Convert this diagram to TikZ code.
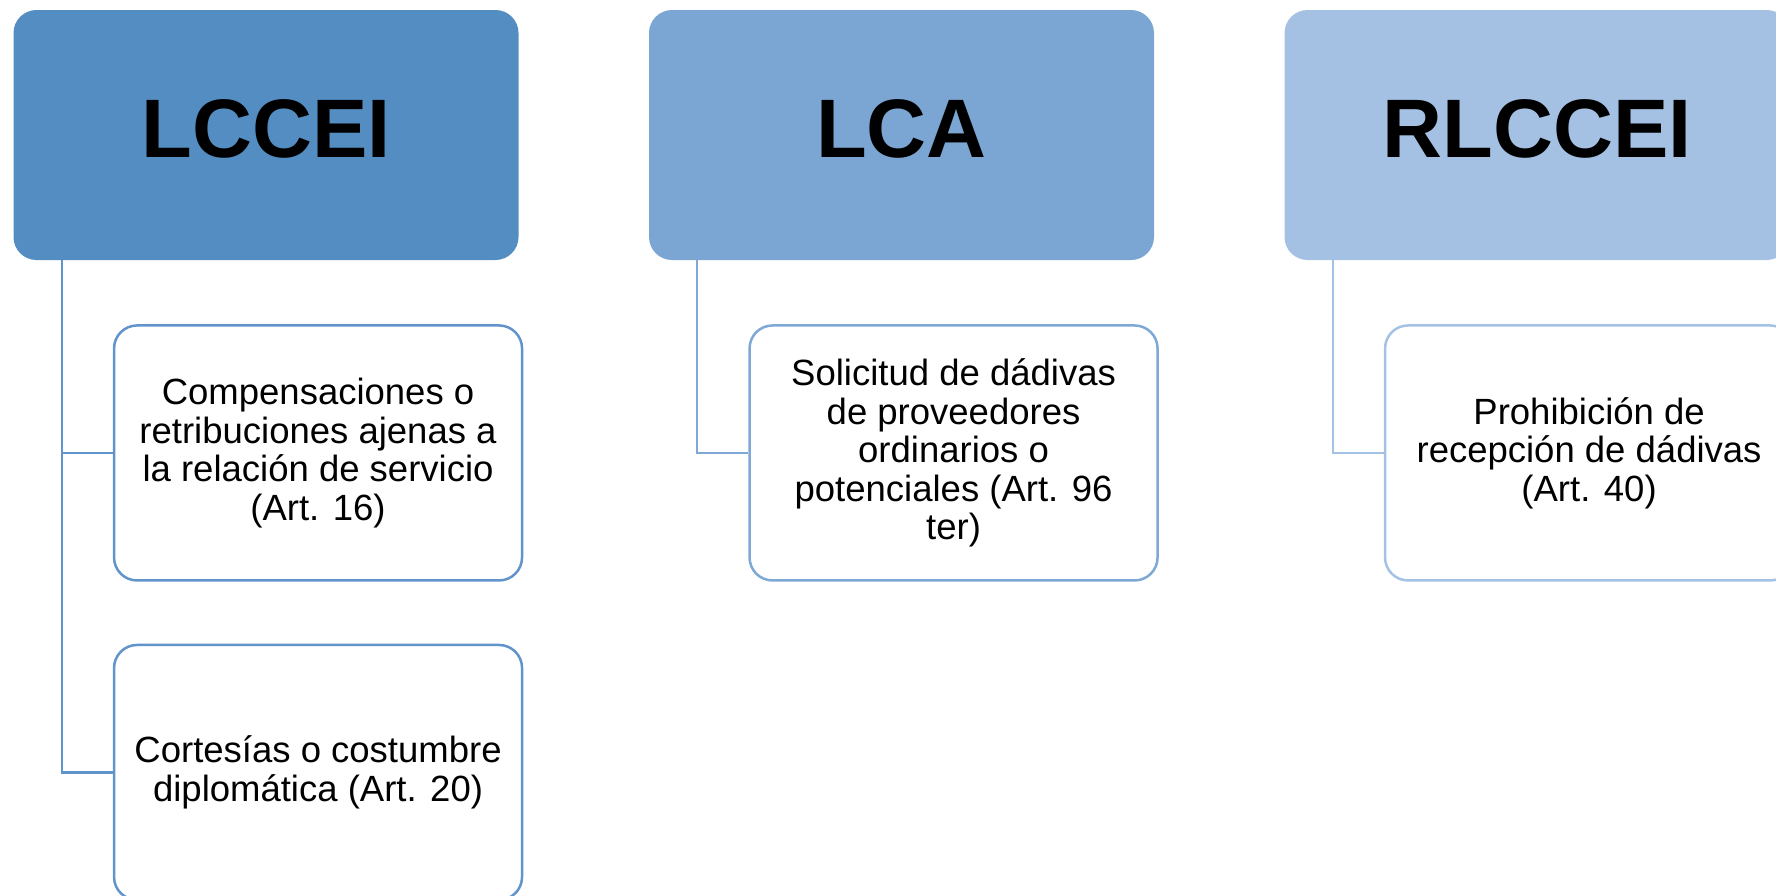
\documentclass[tikz,border=0pt]{standalone}
\usepackage{fontspec}
\setmainfont{Liberation Sans}
\usetikzlibrary{positioning}
\definecolor{headA}{RGB}{83,141,193}
\definecolor{headB}{RGB}{123,166,211}
\definecolor{headC}{RGB}{164,193,228}
\definecolor{lineA}{RGB}{98,148,204}
\definecolor{lineB}{RGB}{126,168,214}
\definecolor{lineC}{RGB}{164,194,230}
\begin{document}
\begin{tikzpicture}[
                    x=1pt, y=1pt,
                    head/.style={rectangle, rounded corners=23pt, inner sep=0pt,
                        minimum width=505pt, minimum height=250pt,
                        font=\fontsize{83}{90}\selectfont\bfseries},
                    leaf/.style={rectangle, rounded corners=23pt, draw, fill=white,
                        line width=2.5pt, inner sep=0pt, align=center,
                        minimum width=408pt, minimum height=255pt,
                        font=\fontsize{36.5}{38.5}\selectfont},
                    link/.style={line width=2.2pt}
                ]
                \clip (0,0) rectangle (1776,-895);
                % Headers
                \node [head, fill=headA] (LCCEI) at (266,-135) {};
                \node [head, fill=headB] (LCA) at (901.5,-135) {};
                \node [head, fill=headC] (RLCCEI) at (1537,-135) {};
                % Header titles
                \node [font=\fontsize{83}{90}\selectfont\bfseries, yshift=6pt] at (LCCEI) {LCCEI};
                \node [font=\fontsize{83}{90}\selectfont\bfseries, yshift=6pt] at (LCA) {LCA};
                \node [font=\fontsize{83}{90}\selectfont\bfseries, yshift=6pt] at (RLCCEI) {RLCCEI};
                % Leaves
                \node [leaf, draw=lineA, below=64pt of LCCEI.south west, anchor=north west, xshift=99.5pt] (art16)
                    {Compensaciones o\\retribuciones ajenas a\\la relación de servicio\\(Art. 16)};
                \node [leaf, draw=lineA, below=62pt of art16] (art20)
                    {Cortesías o costumbre\\diplomática (Art. 20)};
                \node [leaf, draw=lineB, below=64pt of LCA.south west, anchor=north west, xshift=99.5pt] (art96)
                    {Solicitud de dádivas\\de proveedores\\ordinarios o\\potenciales (Art. 96\\ter)};
                \node [leaf, draw=lineC, below=64pt of RLCCEI.south west, anchor=north west, xshift=99.5pt] (art40)
                    {Prohibición de\\recepción de dádivas\\(Art. 40)};
                % Connections
                \draw [link, lineA] ([xshift=48.5pt]LCCEI.south west) |- (art16.west);
                \draw [link, lineA] ([xshift=48.5pt]LCCEI.south west) |- (art20.west);
                \draw [link, lineB] ([xshift=48.5pt]LCA.south west) |- (art96.west);
                \draw [link, lineC] ([xshift=48.5pt]RLCCEI.south west) |- (art40.west);
            \end{tikzpicture}
\end{document}
